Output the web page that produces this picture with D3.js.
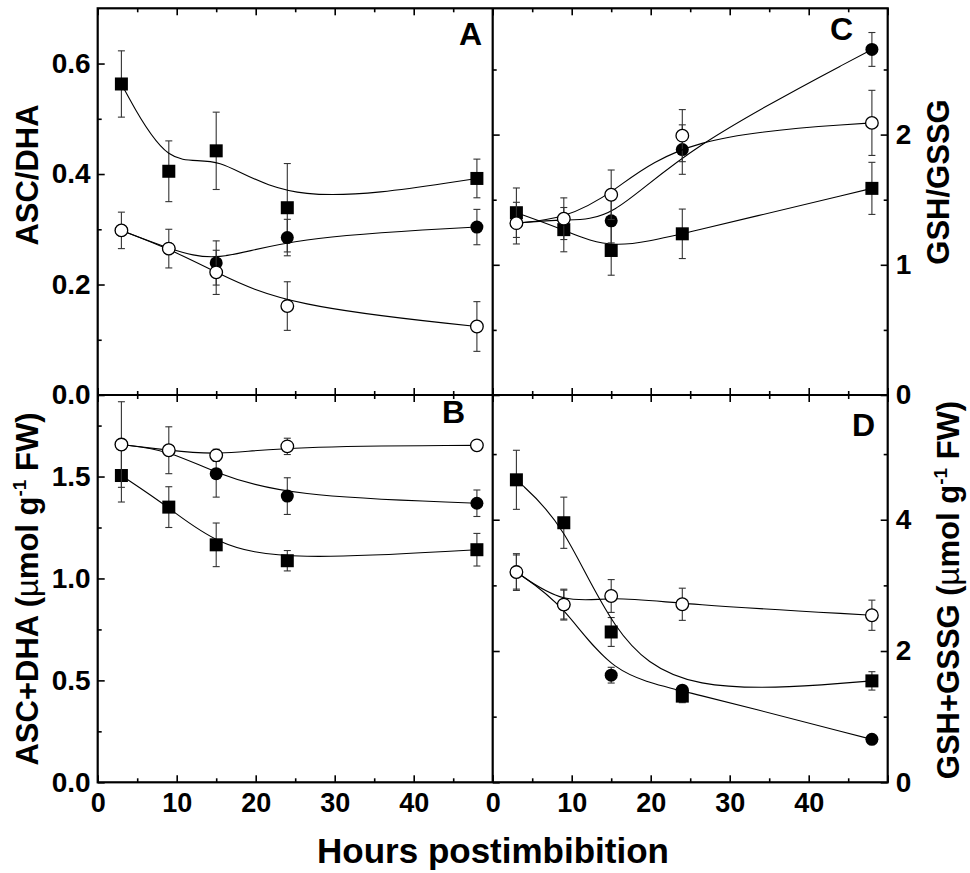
<!DOCTYPE html>
<html>
<head>
<meta charset="utf-8">
<script src="https://cdn.jsdelivr.net/npm/d3@7"></script>
<style>
  body{ margin:0; background:#fff; }
  svg text{ font-family:"Liberation Sans", Arial, sans-serif; font-weight:bold; fill:#000; }
</style>
</head>
<body>
<svg id="chart" width="970" height="873"></svg>
<script>
// sampling times (h)
const hours = [3, 9, 15, 24, 48];

// A: ASC/DHA
const ascRatioSquare    = [0.563, 0.405, 0.442, 0.339, 0.392];
const ascRatioSquareErr = [0.060, 0.055, 0.070, 0.080, 0.035];
const ascRatioFilled    = [0.298, 0.265, 0.239, 0.285, 0.304];
const ascRatioFilledErr = [0, 0, 0.040, 0.033, 0.032];
const ascRatioOpen      = [0.298, 0.265, 0.222, 0.161, 0.124];
const ascRatioOpenErr   = [0.033, 0.035, 0.040, 0.044, 0.045];

// B: ASC+DHA (umol/g FW)
const ascTotalSquare    = [1.505, 1.350, 1.165, 1.087, 1.141];
const ascTotalSquareErr = [0.130, 0.100, 0.107, 0.050, 0.080];
const ascTotalFilled    = [1.657, 1.629, 1.514, 1.404, 1.369];
const ascTotalFilledErr = [0, 0, 0.115, 0.090, 0.065];
const ascTotalOpen      = [1.657, 1.629, 1.604, 1.648, 1.653];
const ascTotalOpenErr   = [0.210, 0.115, 0.030, 0.040, 0.020];

// C: GSH/GSSG
const gshRatioSquare    = [1.400, 1.270, 1.110, 1.238, 1.587];
const gshRatioSquareErr = [0.190, 0.170, 0.190, 0.190, 0.200];
const gshRatioFilled    = [1.320, 1.350, 1.338, 1.885, 2.654];
const gshRatioFilledErr = [0, 0, 0.170, 0.190, 0.130];
const gshRatioOpen      = [1.320, 1.354, 1.538, 1.992, 2.090];
const gshRatioOpenErr   = [0.160, 0.160, 0.190, 0.200, 0.250];

// D: GSH+GSSG (umol/g FW)
const gshTotalSquare    = [4.608, 3.954, 2.290, 1.313, 1.545];
const gshTotalSquareErr = [0.450, 0.390, 0.220, 0.100, 0.140];
const gshTotalFilled    = [3.203, 2.707, 1.632, 1.404, 0.654];
const gshTotalFilledErr = [0.260, 0.220, 0.120, 0.050, 0.030];
const gshTotalOpen      = [3.203, 2.707, 2.838, 2.712, 2.545];
const gshTotalOpenErr   = [0.280, 0.235, 0.250, 0.245, 0.230];

// ticks
const xMajor = [0, 10, 20, 30, 40, 50];
const xMinor = [5, 15, 25, 35, 45];
const xLabels = [0, 10, 20, 30, 40];
const yMajorA = [0, 0.2, 0.4, 0.6],        yMinorA = [0.1, 0.3, 0.5];
const yMajorB = [0, 0.5, 1.0, 1.5],        yMinorB = [0.25, 0.75, 1.25, 1.75];
const yMajorC = [0, 1, 2],                 yMinorC = [0.5, 1.5, 2.5];
const yMajorD = [0, 2, 4],                 yMinorD = [1, 3, 5];

const svg = d3.select("#chart");
const X0 = 97.7, XM = 492.7, X1 = 887.7, Y0 = 8.3, YM = 395, Y1 = 782.3;

const xLeft  = d3.scaleLinear().domain([0, 50]).range([X0, XM]);
const xRight = d3.scaleLinear().domain([0, 50]).range([XM, X1]);
const yA = d3.scaleLinear().domain([0, 0.7]).range([YM, Y0]);
const yC = d3.scaleLinear().domain([0, 2.97]).range([YM, Y0]);
const yB = d3.scaleLinear().domain([0, 1.9]).range([Y1, YM]);
const yD = d3.scaleLinear().domain([0, 5.9]).range([Y1, YM]);

function axis(axisFn, scale, at, values, size, fmt, pad, fs){
  const a = axisFn(scale).tickValues(values).tickSize(size).tickSizeOuter(0).tickPadding(pad || 0);
  a.tickFormat(fmt ? d3.format(fmt) : "");
  const g = svg.append("g").attr("transform", at).call(a);
  g.select(".domain").remove();
  g.selectAll("line").attr("stroke-width", 1.6);
  g.selectAll("text").style("font-size", (fs || 28) + "px");
  return g;
}

function frameTicks(x, y){
  // top and bottom ticks point into the panel
  const [t, b] = [y.range()[1], y.range()[0]];
  axis(d3.axisTop, x, `translate(0,${t})`, xMajor, -7);
  axis(d3.axisTop, x, `translate(0,${t})`, xMinor, -4);
  axis(d3.axisBottom, x, `translate(0,${b})`, xMajor, -7);
  axis(d3.axisBottom, x, `translate(0,${b})`, xMinor, -4);
}

function drawSeries(x, y, vals, errs, kind){
  const pts = hours.map((h, i) => ({h, v: vals[i], e: errs[i]}));
  const g = svg.append("g");

  // error bars
  const eb = g.selectAll("g.err").data(pts.filter(d => d.e > 0)).enter().append("g")
    .attr("stroke", "#333").attr("stroke-width", 1.1);
  eb.append("line").attr("x1", d => x(d.h)).attr("x2", d => x(d.h))
    .attr("y1", d => y(d.v - d.e)).attr("y2", d => y(d.v + d.e));
  eb.append("line").attr("x1", d => x(d.h) - 3.5).attr("x2", d => x(d.h) + 3.5)
    .attr("y1", d => y(d.v + d.e)).attr("y2", d => y(d.v + d.e));
  eb.append("line").attr("x1", d => x(d.h) - 3.5).attr("x2", d => x(d.h) + 3.5)
    .attr("y1", d => y(d.v - d.e)).attr("y2", d => y(d.v - d.e));

  // smoothed curve
  const line = d3.line().x(d => x(d.h)).y(d => y(d.v)).curve(d3.curveBasis);
  g.append("path").attr("d", line(pts)).attr("fill", "none")
    .attr("stroke", "#000").attr("stroke-width", 1.1);

  return {g, pts};
}

function drawMarkers(s, x, y, kind){
  if(kind === "square"){
    s.g.selectAll("rect").data(s.pts).enter().append("rect")
      .attr("x", d => x(d.h) - 6.5).attr("y", d => y(d.v) - 6.5)
      .attr("width", 13).attr("height", 13).attr("fill", "#000");
  } else {
    s.g.selectAll("circle").data(s.pts).enter().append("circle")
      .attr("cx", d => x(d.h)).attr("cy", d => y(d.v)).attr("r", kind === "open" ? 6.3 : 6.5)
      .attr("fill", kind === "open" ? "#fff" : "#000")
      .attr("stroke", "#000").attr("stroke-width", kind === "open" ? 1.3 : 0);
  }
}

function panel(x, y, data){
  const series = data.map(([v, e, k]) => ({s: drawSeries(x, y, v, e, k), k}));
  series.forEach(d => drawMarkers(d.s, x, y, d.k));
}

// axes: left panels
axis(d3.axisLeft, yA, `translate(${X0},0)`, yMajorA, -7, ".1f", 7);
axis(d3.axisLeft, yA, `translate(${X0},0)`, yMinorA, -4);
axis(d3.axisLeft, yB, `translate(${X0},0)`, yMajorB, -7, ".1f", 7);
axis(d3.axisLeft, yB, `translate(${X0},0)`, yMinorB, -4);
frameTicks(xLeft, yA);
frameTicks(xLeft, yB);
axis(d3.axisBottom, xLeft, `translate(0,${Y1})`, xLabels, -7, "d", 11, 27).selectAll("line").remove();

// right panels: ticks on the shared edge point into C/D
axis(d3.axisRight, yC, `translate(${XM},0)`, yMajorC, 7);
axis(d3.axisRight, yC, `translate(${XM},0)`, yMinorC, 4);
axis(d3.axisRight, yD, `translate(${XM},0)`, yMajorD, 7);
axis(d3.axisRight, yD, `translate(${XM},0)`, yMinorD, 4);
axis(d3.axisRight, yC, `translate(${X1},0)`, yMajorC, -7, "d", 8);
axis(d3.axisRight, yC, `translate(${X1},0)`, yMinorC, -4);
axis(d3.axisRight, yD, `translate(${X1},0)`, yMajorD, -7, "d", 8);
axis(d3.axisRight, yD, `translate(${X1},0)`, yMinorD, -4);
frameTicks(xRight, yC);
frameTicks(xRight, yD);
axis(d3.axisBottom, xRight, `translate(0,${Y1})`, xLabels, -7, "d", 11, 27).selectAll("line").remove();

// data
panel(xLeft, yA, [[ascRatioSquare, ascRatioSquareErr, "square"], [ascRatioFilled, ascRatioFilledErr, "filled"], [ascRatioOpen, ascRatioOpenErr, "open"]]);
panel(xLeft, yB, [[ascTotalSquare, ascTotalSquareErr, "square"], [ascTotalFilled, ascTotalFilledErr, "filled"], [ascTotalOpen, ascTotalOpenErr, "open"]]);
panel(xRight, yC, [[gshRatioSquare, gshRatioSquareErr, "square"], [gshRatioFilled, gshRatioFilledErr, "filled"], [gshRatioOpen, gshRatioOpenErr, "open"]]);
panel(xRight, yD, [[gshTotalSquare, gshTotalSquareErr, "square"], [gshTotalFilled, gshTotalFilledErr, "filled"], [gshTotalOpen, gshTotalOpenErr, "open"]]);

// frames
const frame = svg.append("g").attr("fill", "none").attr("stroke", "#000").attr("stroke-width", 2.2);
frame.append("rect").attr("x", X0).attr("y", Y0).attr("width", X1 - X0).attr("height", Y1 - Y0);
frame.append("line").attr("x1", XM).attr("x2", XM).attr("y1", Y0).attr("y2", Y1);
frame.append("line").attr("x1", X0).attr("x2", X1).attr("y1", YM).attr("y2", YM);

// panel letters
[["A", 482, 45], ["B", 465, 423], ["C", 853, 40], ["D", 875, 436]].forEach(([t, x, y]) => {
  svg.append("text").attr("x", x).attr("y", y).attr("text-anchor", "end")
    .style("font-size", "32px").text(t);
});

// axis titles
function vTitle(x, y, main, unit){
  const t = svg.append("text").attr("transform", `translate(${x},${y}) rotate(-90)`)
    .attr("text-anchor", "middle").style("font-size", "31px");
  t.append("tspan").text(main);
  if(unit){
    t.append("tspan").text(" (");
    t.append("tspan").style("font-weight", "normal").text("\u00b5");
    t.append("tspan").text("mol g");
    t.append("tspan").attr("dy", -12).style("font-size", "19px").text("-1");
    t.append("tspan").attr("dy", 12).text(" FW)");
  }
}
vTitle(38, 175, "ASC/DHA");
vTitle(38, 589, "ASC+DHA", true);
vTitle(949, 182, "GSH/GSSG");
vTitle(959, 590, "GSH+GSSG", true);

svg.append("text").attr("x", 493).attr("y", 863).attr("text-anchor", "middle")
  .style("font-size", "35px").text("Hours postimbibition");
</script>
</body>
</html>
